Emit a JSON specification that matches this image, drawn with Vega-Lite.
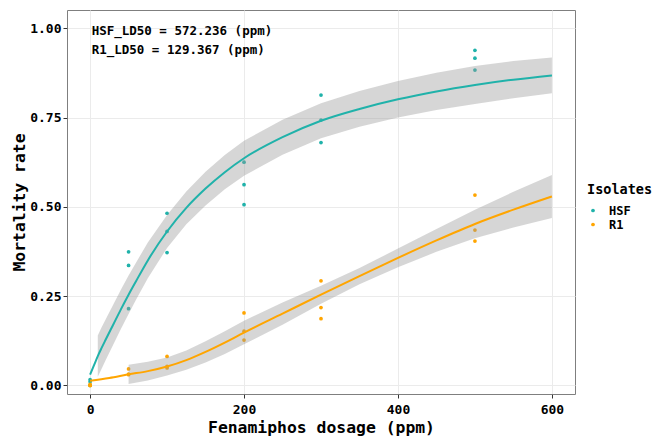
{
  "$schema": "https://vega.github.io/schema/vega-lite/v6.json",
  "width": 508,
  "height": 384,
  "autosize": {"type": "none"},
  "padding": {"left": 67, "top": 10, "right": 79, "bottom": 45},
  "background": "white",
  "datasets": {
    "pts": [
      {"iso": "HSF", "dose": 0, "mort": 0.0},
      {"iso": "HSF", "dose": 0, "mort": 0.01},
      {"iso": "HSF", "dose": 0, "mort": 0.016},
      {"iso": "HSF", "dose": 50, "mort": 0.374},
      {"iso": "HSF", "dose": 50, "mort": 0.336},
      {"iso": "HSF", "dose": 50, "mort": 0.215},
      {"iso": "HSF", "dose": 100, "mort": 0.482},
      {"iso": "HSF", "dose": 100, "mort": 0.431},
      {"iso": "HSF", "dose": 100, "mort": 0.372},
      {"iso": "HSF", "dose": 200, "mort": 0.625},
      {"iso": "HSF", "dose": 200, "mort": 0.562},
      {"iso": "HSF", "dose": 200, "mort": 0.506},
      {"iso": "HSF", "dose": 300, "mort": 0.813},
      {"iso": "HSF", "dose": 300, "mort": 0.743},
      {"iso": "HSF", "dose": 300, "mort": 0.68},
      {"iso": "HSF", "dose": 500, "mort": 0.938},
      {"iso": "HSF", "dose": 500, "mort": 0.916},
      {"iso": "HSF", "dose": 500, "mort": 0.883},
      {"iso": "R1", "dose": 0, "mort": 0.0},
      {"iso": "R1", "dose": 0, "mort": 0.0},
      {"iso": "R1", "dose": 0, "mort": 0.003},
      {"iso": "R1", "dose": 50, "mort": 0.046},
      {"iso": "R1", "dose": 50, "mort": 0.032},
      {"iso": "R1", "dose": 50, "mort": 0.03},
      {"iso": "R1", "dose": 100, "mort": 0.081},
      {"iso": "R1", "dose": 100, "mort": 0.053},
      {"iso": "R1", "dose": 100, "mort": 0.049},
      {"iso": "R1", "dose": 200, "mort": 0.203},
      {"iso": "R1", "dose": 200, "mort": 0.152},
      {"iso": "R1", "dose": 200, "mort": 0.127},
      {"iso": "R1", "dose": 300, "mort": 0.293},
      {"iso": "R1", "dose": 300, "mort": 0.218},
      {"iso": "R1", "dose": 300, "mort": 0.187},
      {"iso": "R1", "dose": 500, "mort": 0.533},
      {"iso": "R1", "dose": 500, "mort": 0.435},
      {"iso": "R1", "dose": 500, "mort": 0.404}
    ],
    "fit": [
      {"iso": "HSF", "dose": 0, "mort": 0.03},
      {"iso": "HSF", "dose": 5, "mort": 0.056},
      {"iso": "HSF", "dose": 10, "mort": 0.082},
      {"iso": "HSF", "dose": 15, "mort": 0.105},
      {"iso": "HSF", "dose": 20, "mort": 0.127},
      {"iso": "HSF", "dose": 30, "mort": 0.17},
      {"iso": "HSF", "dose": 40, "mort": 0.213},
      {"iso": "HSF", "dose": 50, "mort": 0.254},
      {"iso": "HSF", "dose": 60, "mort": 0.293},
      {"iso": "HSF", "dose": 75, "mort": 0.35},
      {"iso": "HSF", "dose": 100, "mort": 0.431},
      {"iso": "HSF", "dose": 125, "mort": 0.497},
      {"iso": "HSF", "dose": 150, "mort": 0.551},
      {"iso": "HSF", "dose": 175, "mort": 0.597},
      {"iso": "HSF", "dose": 200, "mort": 0.636},
      {"iso": "HSF", "dose": 250, "mort": 0.695},
      {"iso": "HSF", "dose": 300, "mort": 0.741},
      {"iso": "HSF", "dose": 350, "mort": 0.774},
      {"iso": "HSF", "dose": 400, "mort": 0.801},
      {"iso": "HSF", "dose": 450, "mort": 0.823},
      {"iso": "HSF", "dose": 500, "mort": 0.841},
      {"iso": "HSF", "dose": 550, "mort": 0.856},
      {"iso": "HSF", "dose": 600, "mort": 0.868},
      {"iso": "R1", "dose": 0, "mort": 0.013},
      {"iso": "R1", "dose": 25, "mort": 0.021},
      {"iso": "R1", "dose": 50, "mort": 0.031},
      {"iso": "R1", "dose": 75, "mort": 0.04},
      {"iso": "R1", "dose": 100, "mort": 0.053},
      {"iso": "R1", "dose": 125, "mort": 0.071},
      {"iso": "R1", "dose": 150, "mort": 0.094},
      {"iso": "R1", "dose": 175, "mort": 0.12},
      {"iso": "R1", "dose": 200, "mort": 0.148},
      {"iso": "R1", "dose": 250, "mort": 0.201},
      {"iso": "R1", "dose": 300, "mort": 0.254},
      {"iso": "R1", "dose": 350, "mort": 0.306},
      {"iso": "R1", "dose": 400, "mort": 0.357},
      {"iso": "R1", "dose": 450, "mort": 0.406},
      {"iso": "R1", "dose": 500, "mort": 0.452},
      {"iso": "R1", "dose": 550, "mort": 0.492},
      {"iso": "R1", "dose": 600, "mort": 0.529}
    ],
    "band": [
      {"iso": "HSF", "dose": 10, "lo": 0.024, "hi": 0.14},
      {"iso": "HSF", "dose": 15, "lo": 0.047, "hi": 0.163},
      {"iso": "HSF", "dose": 20, "lo": 0.07, "hi": 0.184},
      {"iso": "HSF", "dose": 30, "lo": 0.114, "hi": 0.226},
      {"iso": "HSF", "dose": 40, "lo": 0.158, "hi": 0.268},
      {"iso": "HSF", "dose": 50, "lo": 0.2, "hi": 0.308},
      {"iso": "HSF", "dose": 60, "lo": 0.241, "hi": 0.345},
      {"iso": "HSF", "dose": 75, "lo": 0.3, "hi": 0.4},
      {"iso": "HSF", "dose": 100, "lo": 0.385, "hi": 0.477},
      {"iso": "HSF", "dose": 125, "lo": 0.451, "hi": 0.543},
      {"iso": "HSF", "dose": 150, "lo": 0.504, "hi": 0.598},
      {"iso": "HSF", "dose": 175, "lo": 0.549, "hi": 0.645},
      {"iso": "HSF", "dose": 200, "lo": 0.587, "hi": 0.685},
      {"iso": "HSF", "dose": 250, "lo": 0.646, "hi": 0.744},
      {"iso": "HSF", "dose": 300, "lo": 0.692, "hi": 0.79},
      {"iso": "HSF", "dose": 350, "lo": 0.724, "hi": 0.824},
      {"iso": "HSF", "dose": 400, "lo": 0.75, "hi": 0.852},
      {"iso": "HSF", "dose": 450, "lo": 0.771, "hi": 0.875},
      {"iso": "HSF", "dose": 500, "lo": 0.788, "hi": 0.894},
      {"iso": "HSF", "dose": 550, "lo": 0.804, "hi": 0.908},
      {"iso": "HSF", "dose": 600, "lo": 0.818, "hi": 0.918},
      {"iso": "R1", "dose": 50, "lo": 0.004, "hi": 0.058},
      {"iso": "R1", "dose": 75, "lo": 0.014, "hi": 0.066},
      {"iso": "R1", "dose": 100, "lo": 0.028, "hi": 0.078},
      {"iso": "R1", "dose": 125, "lo": 0.044, "hi": 0.098},
      {"iso": "R1", "dose": 150, "lo": 0.064, "hi": 0.124},
      {"iso": "R1", "dose": 175, "lo": 0.088, "hi": 0.152},
      {"iso": "R1", "dose": 200, "lo": 0.115, "hi": 0.181},
      {"iso": "R1", "dose": 250, "lo": 0.17, "hi": 0.232},
      {"iso": "R1", "dose": 300, "lo": 0.229, "hi": 0.279},
      {"iso": "R1", "dose": 350, "lo": 0.283, "hi": 0.329},
      {"iso": "R1", "dose": 400, "lo": 0.331, "hi": 0.383},
      {"iso": "R1", "dose": 450, "lo": 0.374, "hi": 0.438},
      {"iso": "R1", "dose": 500, "lo": 0.412, "hi": 0.492},
      {"iso": "R1", "dose": 550, "lo": 0.442, "hi": 0.542},
      {"iso": "R1", "dose": 600, "lo": 0.469, "hi": 0.589}
    ],
    "notes": [
      {"label": "HSF_LD50 = 572.236 (ppm)", "dose": 2, "mort": 0.992},
      {"label": "R1_LD50 = 129.367 (ppm)", "dose": 2, "mort": 0.938}
    ]
  },
  "config": {
    "font": "DejaVu Sans Mono",
    "view": {"stroke": "#7f7f7f", "strokeWidth": 1},
    "axis": {
      "domain": false,
      "gridColor": "#ebebeb",
      "gridWidth": 1,
      "tickColor": "#333333",
      "tickSize": 4,
      "labelFont": "DejaVu Sans Mono",
      "labelFontWeight": "bold",
      "labelFontSize": 13,
      "labelColor": "#000000",
      "titleFont": "DejaVu Sans Mono",
      "titleFontWeight": "bold",
      "titleFontSize": 16.4,
      "titleColor": "#000000"
    },
    "legend": {
      "orient": "none",
      "legendX": 520,
      "legendY": 173,
      "titleFont": "DejaVu Sans Mono",
      "titleFontWeight": "bold",
      "titleFontSize": 13.5,
      "titleColor": "#000000",
      "titlePadding": 8,
      "labelFont": "DejaVu Sans Mono",
      "labelFontWeight": "bold",
      "labelFontSize": 12,
      "labelColor": "#000000",
      "symbolType": "circle",
      "symbolSize": 14,
      "symbolStrokeWidth": 0,
      "rowPadding": 2,
      "labelOffset": 10
    }
  },
  "resolve": {"axis": {"x": "independent", "y": "independent"}},
  "layer": [
    {
      "data": {"name": "pts"},
      "mark": {"type": "point", "filled": true, "size": 14, "opacity": 1},
      "encoding": {
        "x": {
          "field": "dose", "type": "quantitative",
          "scale": {"domain": [-30, 630], "nice": false, "zero": false},
          "axis": {"orient": "bottom", "values": [0, 200, 400, 600], "title": "Fenamiphos dosage (ppm)", "labelPadding": 5, "titlePadding": 3}
        },
        "y": {
          "field": "mort", "type": "quantitative",
          "scale": {"domain": [-0.024, 1.051], "nice": false, "zero": false},
          "axis": {"orient": "left", "values": [0, 0.25, 0.5, 0.75, 1], "format": ".2f", "title": "Mortality rate", "labelPadding": 2, "titlePadding": 2}
        },
        "color": {
          "field": "iso", "type": "nominal",
          "scale": {"domain": ["HSF", "R1"], "range": ["#20B2AA", "#FFA500"]},
          "legend": {"title": "Isolates"}
        }
      }
    },
    {
      "data": {"name": "band"},
      "mark": {"type": "area", "color": "#999999", "opacity": 0.4},
      "encoding": {
        "x": {
          "field": "dose", "type": "quantitative",
          "scale": {"domain": [-30, 630], "nice": false, "zero": false},
          "axis": {"orient": "bottom", "values": [100, 300, 500], "labels": false, "ticks": false, "title": null, "gridWidth": 0.6}
        },
        "y": {
          "field": "lo", "type": "quantitative",
          "scale": {"domain": [-0.024, 1.051], "nice": false, "zero": false},
          "axis": {"orient": "left", "values": [0.125, 0.375, 0.625, 0.875], "labels": false, "ticks": false, "title": null, "gridWidth": 0.6}
        },
        "y2": {"field": "hi"},
        "detail": {"field": "iso", "type": "nominal"}
      }
    },
    {
      "data": {"name": "fit"},
      "mark": {"type": "line", "strokeWidth": 2, "interpolate": "monotone"},
      "encoding": {
        "x": {"field": "dose", "type": "quantitative", "scale": {"domain": [-30, 630], "nice": false, "zero": false}, "axis": null},
        "y": {"field": "mort", "type": "quantitative", "scale": {"domain": [-0.024, 1.051], "nice": false, "zero": false}, "axis": null},
        "stroke": {
          "field": "iso", "type": "nominal",
          "scale": {"domain": ["HSF", "R1"], "range": ["#20B2AA", "#FFA500"]},
          "legend": null
        }
      }
    },
    {
      "data": {"name": "notes"},
      "mark": {"type": "text", "align": "left", "baseline": "middle", "font": "DejaVu Sans Mono", "fontWeight": "bold", "fontSize": 12.5, "color": "#000000"},
      "encoding": {
        "x": {"field": "dose", "type": "quantitative", "scale": {"domain": [-30, 630], "nice": false, "zero": false}, "axis": null},
        "y": {"field": "mort", "type": "quantitative", "scale": {"domain": [-0.024, 1.051], "nice": false, "zero": false}, "axis": null},
        "text": {"field": "label"}
      }
    }
  ]
}
